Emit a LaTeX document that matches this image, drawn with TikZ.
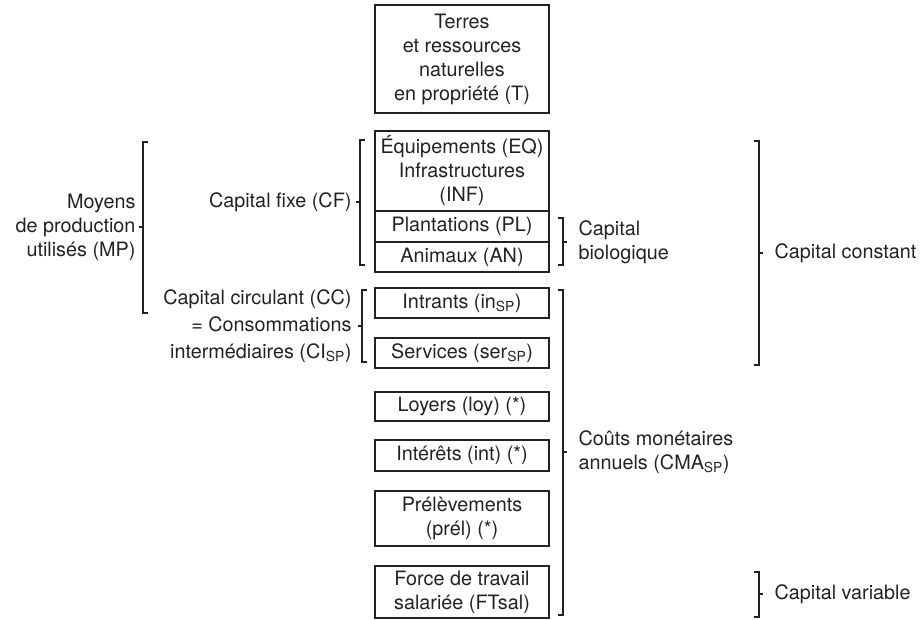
\documentclass[tikz,border=0pt]{standalone}
\usepackage{fontspec}
\setmainfont{TeX Gyre Heros}
\definecolor{ink}{HTML}{222222}

\begin{document}
\begin{tikzpicture}[x=1pt,y=-1pt,line width=1.1pt,draw=ink,text=ink,
    font=\fontsize{19.8}{24}\selectfont,
    box/.style={draw,minimum width=174pt,inner sep=0pt,align=center},
    left label/.style={inner sep=0pt,align=right,anchor=east},
    right label/.style={inner sep=0pt,align=left,anchor=west}]

    \useasboundingbox (0,0) rectangle (922,620);

    % boxes
    \node[box,minimum height=108pt] (T) at (462,59) {Terres\\et ressources\\naturelles\\en propriété (T)};
    \node[box,minimum height=80pt] (EQ) at (462,171) {Équipements (EQ)\\Infrastructures\\(INF)};
    \node[box,minimum height=31pt] (PL) at (462,226.5) {Plantations (PL)};
    \node[box,minimum height=30pt] (AN) at (462,257) {Animaux (AN)};
    \node[box,minimum height=30pt] (IN) at (462,303) {Intrants (in\textsubscript{SP})};
    \node[box,minimum height=30pt] (SER) at (462,353) {Services (ser\textsubscript{SP})};
    \node[box,minimum height=29pt] (LOY) at (462,406.5) {Loyers (loy) (*)};
    \node[box,minimum height=31pt] (INT) at (462,455.5) {Intérêts (int) (*)};
    \node[box,minimum height=55pt] (PREL) at (462,518.5) {Prélèvements\\(prél) (*)};
    \node[box,minimum height=52pt] (FT) at (462,592) {Force de travail\\salariée (FTsal)};

    % left brackets
    \draw (148,142) -- (143,142) -- (143,313) -- (148,313) (143,227) coordinate (mpTick) -- ++(-4,0);
    \draw (365,140) -- (360,140) -- (360,265) -- (365,265) (360,202) coordinate (cfTick) -- ++(-4,0);
    \draw (367,290) -- (362,290) -- (362,362) -- (367,362) (362,326) coordinate (ccTick) -- ++(-4,0);

    % right brackets
    \draw (558,218) -- (563,218) -- (563,265) -- (558,265) (563,242) coordinate (bioTick) -- ++(4,0);
    \draw (558,290) -- (563,290) -- (563,615) -- (558,615) (563,452) coordinate (cmaTick) -- ++(4,0);
    \draw (754,141) -- (759,141) -- (759,365) -- (754,365) (759,253) coordinate (constTick) -- ++(4,0);
    \draw (754,572) -- (759,572) -- (759,617) -- (754,617) (759,594) coordinate (varTick) -- ++(4,0);

    % labels
    \node[left label] (MP) at ([xshift=-7pt]mpTick) {Moyens\\de production\\utilisés (MP)};
    \node[left label] (CF) at ([xshift=-8pt]cfTick) {Capital fixe (CF)};
    \node[left label] (CC) at ([xshift=-10pt]ccTick) {Capital circulant (CC)\\[3pt]= Consommations\\[3pt]intermédiaires (CI\textsubscript{SP})};
    \node[right label] (BIO) at ([xshift=15pt]bioTick) {Capital\\biologique};
    \node[right label] (CMA) at ([xshift=15pt]cmaTick) {Coûts monétaires\\annuels (CMA\textsubscript{SP})};
    \node[right label] (CST) at ([xshift=15pt]constTick) {Capital constant};
    \node[right label] (VAR) at ([xshift=15pt]varTick) {Capital variable};

\end{tikzpicture}
\end{document}
